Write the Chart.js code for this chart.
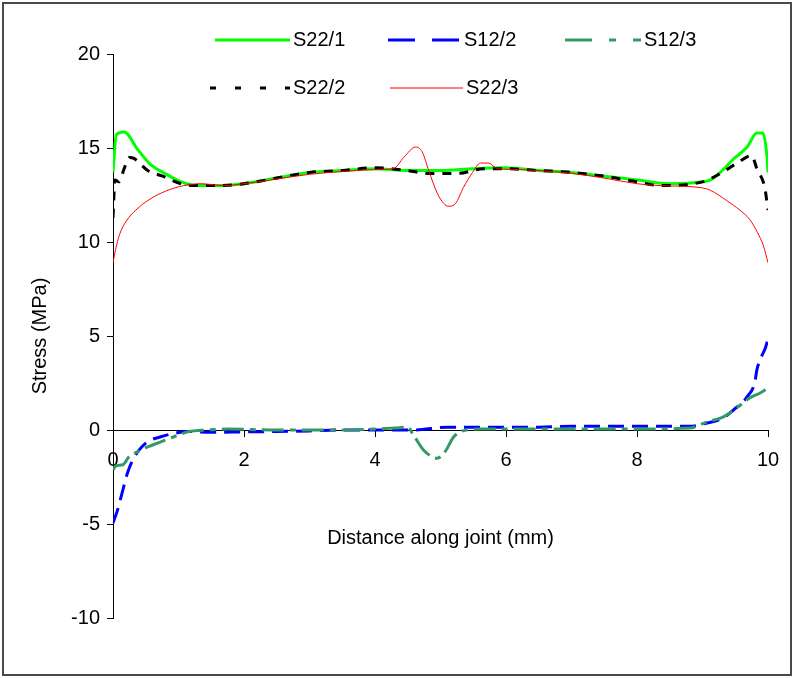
<!DOCTYPE html>
<html>
<head>
<meta charset="utf-8">
<title>Stress along joint</title>
<script src="https://cdn.jsdelivr.net/npm/chart.js@4.4.1/dist/chart.umd.min.js"></script>
<style>
    body { margin: 0; background: #fff; }
    canvas { display: block; }
</style>
</head>
<body>
<canvas id="stressChart" width="794" height="678"></canvas>
<script>
// Distance along joint (mm) and stress (MPa) for each result set
const s22_1X = [0, 0.05, 0.17, 0.38, 0.58, 0.78, 1.04, 1.3, 1.6, 2, 2.5, 3, 3.5, 4, 4.5, 5, 5.5, 6, 6.5, 7, 7.5, 8, 8.5, 9, 9.12, 9.27, 9.47, 9.68, 9.83, 9.92, 9.98, 10];
const s22_1Y = [13.7, 15.7, 15.85, 14.9, 14.1, 13.67, 13.2, 13.0, 13.0, 13.1, 13.4, 13.7, 13.8, 13.9, 13.8, 13.8, 13.9, 13.95, 13.8, 13.7, 13.5, 13.3, 13.1, 13.2, 13.3, 13.7, 14.4, 15.05, 15.8, 15.8, 14.7, 13.7];

const s12_2X = [0, 0.07, 0.15, 0.22, 0.3, 0.4, 0.53, 0.73, 0.93, 1.14, 1.5, 2, 2.5, 3, 3.5, 4, 4.6, 5.1, 5.5, 6, 6.5, 7, 7.5, 8, 8.8, 9.07, 9.32, 9.47, 9.68, 9.8, 9.83, 9.9, 9.98, 10];
const s12_2Y = [-4.95, -4.25, -3.2, -2.3, -1.6, -1.06, -0.62, -0.36, -0.18, -0.08, -0.12, -0.1, -0.08, -0.05, 0, 0, 0, 0.15, 0.15, 0.15, 0.15, 0.2, 0.2, 0.2, 0.2, 0.37, 0.64, 1.06, 1.76, 2.55, 3.2, 3.9, 4.6, 5.05];

const s12_3X = [0, 0.05, 0.15, 0.25, 0.38, 0.53, 0.73, 0.93, 1.14, 1.45, 1.75, 2.5, 3, 3.5, 4, 4.3, 4.5, 4.57, 4.74, 4.95, 5.07, 5.2, 5.3, 5.6, 6, 7, 8, 8.8, 9.07, 9.32, 9.53, 9.72, 9.88, 10];
const s12_3Y = [-2.1, -1.9, -1.85, -1.4, -1.15, -0.9, -0.63, -0.36, -0.1, 0, 0.05, 0, 0, 0, 0.05, 0.1, 0.15, -0.17, -1.06, -1.5, -1.15, -0.37, -0.1, 0.05, 0.05, 0.05, 0.05, 0.1, 0.43, 0.7, 1.2, 1.7, 1.97, 2.23];

const s22_2X = [0, 0.03, 0.09, 0.17, 0.25, 0.32, 0.53, 0.76, 1.04, 1.24, 1.6, 2, 2.5, 3, 3.5, 4, 4.5, 4.8, 5.26, 5.66, 6, 6.5, 7, 7.5, 8, 8.35, 9, 9.3, 9.53, 9.75, 9.83, 9.95, 10];
const s22_2Y = [11.3, 13.3, 13.2, 13.9, 14.5, 14.45, 13.8, 13.5, 13.1, 13.0, 13.0, 13.1, 13.4, 13.7, 13.8, 13.95, 13.8, 13.65, 13.65, 13.9, 13.9, 13.8, 13.7, 13.5, 13.2, 13.0, 13.2, 13.7, 14.2, 14.6, 13.9, 12.9, 11.7];

const s22_3X = [0, 0.04, 0.1, 0.2, 0.35, 0.55, 0.8, 1.08, 1.34, 1.7, 2, 2.5, 3, 3.5, 4, 4.28, 4.44, 4.62, 4.72, 4.82, 4.95, 5.05, 5.12, 5.23, 5.35, 5.49, 5.61, 5.73, 5.87, 6.2, 6.5, 7, 7.5, 8, 8.35, 8.96, 9.12, 9.37, 9.57, 9.72, 9.84, 9.93, 10];
const s22_3Y = [8.9, 9.6, 10.4, 11.1, 11.7, 12.25, 12.7, 13.0, 13.1, 13.0, 13.1, 13.35, 13.6, 13.75, 13.85, 13.9, 14.5, 15.05, 14.8, 13.8, 12.6, 12.05, 11.9, 12.05, 12.9, 13.7, 14.2, 14.2, 13.9, 13.85, 13.8, 13.65, 13.4, 13.1, 13.0, 12.9, 12.75, 12.2, 11.7, 11.2, 10.5, 9.8, 8.9];

const seriesNames = ['S22/1', 'S12/2', 'S12/3', 'S22/2', 'S22/3'];

const FONT = "'Liberation Sans', Arial, sans-serif";

function toPoints(xs, ys) {
    return xs.map((x, i) => ({ x: x, y: ys[i] }));
}

function makeDataset(name, xs, ys, style) {
    return Object.assign({
        label: name,
        data: toPoints(xs, ys),
        showLine: true,
        fill: false,
        pointRadius: 0,
        pointHoverRadius: 0,
        cubicInterpolationMode: 'monotone',
        borderCapStyle: 'butt'
    }, style);
}

// Legend drawn by hand: two rows of line samples followed by the series name
const legendSlots = [
    { x1: 215, x2: 290, y: 40 },
    { x1: 388, x2: 461, y: 40 },
    { x1: 565, x2: 641, y: 40 },
    { x1: 210, x2: 290, y: 88 },
    { x1: 390, x2: 463, y: 88 }
];

const lineLegend = {
    id: 'lineLegend',
    afterDraw(chart) {
        const ctx = chart.ctx;
        ctx.save();
        chart.data.datasets.forEach((ds, i) => {
            const slot = legendSlots[i];
            ctx.beginPath();
            ctx.strokeStyle = ds.borderColor;
            ctx.lineWidth = ds.borderWidth;
            ctx.lineCap = 'butt';
            ctx.setLineDash(ds.legendDash || []);
            ctx.moveTo(slot.x1, slot.y);
            ctx.lineTo(slot.x2, slot.y);
            ctx.stroke();
            ctx.setLineDash([]);
            ctx.fillStyle = '#000';
            ctx.font = '20px ' + FONT;
            ctx.textBaseline = 'middle';
            ctx.textAlign = 'left';
            ctx.fillText(ds.label, slot.x2 + 3, slot.y);
        });
        // frame round the whole chart
        ctx.strokeStyle = '#4a4a4a';
        ctx.lineWidth = 2;
        ctx.strokeRect(3, 3, 788, 672);
        ctx.restore();
    }
};

const datasets = [
    makeDataset(seriesNames[0], s22_1X, s22_1Y, {
        borderColor: '#00FF00', borderWidth: 3, order: 5
    }),
    makeDataset(seriesNames[1], s12_2X, s12_2Y, {
        borderColor: '#0000FF', borderWidth: 3, borderDash: [16, 8], legendDash: [27, 17], order: 4
    }),
    makeDataset(seriesNames[2], s12_3X, s12_3Y, {
        borderColor: '#339966', borderWidth: 3, borderDash: [22, 6, 6, 6], legendDash: [27, 17, 7, 17], order: 3
    }),
    makeDataset(seriesNames[3], s22_2X, s22_2Y, {
        borderColor: '#000000', borderWidth: 3, borderDash: [9, 8], legendDash: [6, 19], order: 2
    }),
    makeDataset(seriesNames[4], s22_3X, s22_3Y, {
        borderColor: '#FF0000', borderWidth: 1, order: 1
    })
];

const ctx = document.getElementById('stressChart').getContext('2d');
const chart = new Chart(ctx, {
    type: 'scatter',
    data: { datasets: datasets },
    options: {
        responsive: false,
        animation: false,
        devicePixelRatio: 1,
        layout: {
            padding: { left: 0, top: 54, right: 26, bottom: 60 }
        },
        plugins: {
            legend: { display: false },
            tooltip: { enabled: false }
        },
        scales: {
            x: {
                type: 'linear',
                position: { y: 0 },
                min: 0,
                max: 10,
                ticks: {
                    stepSize: 2,
                    color: '#000',
                    padding: 12,
                    font: { family: FONT, size: 20 }
                },
                grid: {
                    drawOnChartArea: false,
                    drawTicks: true,
                    tickLength: 6,
                    color: '#000'
                },
                border: { display: true, color: '#000', width: 1 },
                title: {
                    display: true,
                    text: 'Distance along joint (mm)',
                    color: '#000',
                    font: { family: FONT, size: 20 },
                    padding: { top: 42, bottom: 0 }
                }
            },
            y: {
                min: -10,
                max: 20,
                ticks: {
                    stepSize: 5,
                    color: '#000',
                    padding: 7,
                    font: { family: FONT, size: 20 }
                },
                grid: {
                    drawOnChartArea: false,
                    drawTicks: true,
                    tickLength: 6,
                    color: '#000'
                },
                border: { display: true, color: '#000', width: 1 },
                title: {
                    display: true,
                    text: 'Stress (MPa)',
                    color: '#000',
                    font: { family: FONT, size: 20 },
                    padding: { top: 28, bottom: 0 }
                },
                afterFit(scale) {
                    scale.width = 113;
                }
            }
        }
    },
    plugins: [lineLegend]
});
</script>
</body>
</html>
